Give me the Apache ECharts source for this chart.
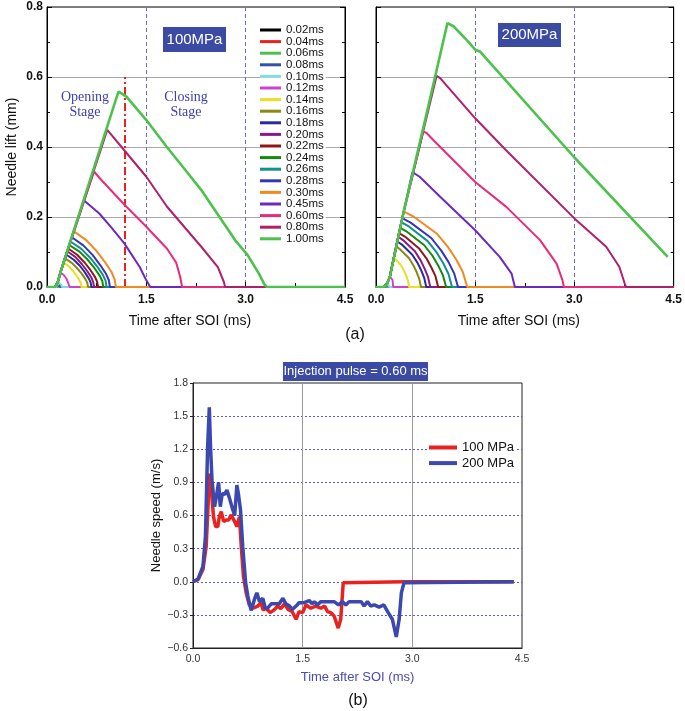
<!DOCTYPE html>
<html>
<head>
<meta charset="utf-8">
<script src="https://cdn.jsdelivr.net/npm/echarts@6/dist/echarts.min.js"></script>
<style>html,body{margin:0;padding:0;background:#fff}#c{width:685px;height:711px}</style>
</head>
<body>
<div id="c"></div>
<script>
// ---------- DATA ----------
const pulseLabels = ['0.02ms','0.04ms','0.06ms','0.08ms','0.10ms','0.12ms','0.14ms','0.16ms','0.18ms','0.20ms','0.22ms','0.24ms','0.26ms','0.28ms','0.30ms','0.45ms','0.60ms','0.80ms','1.00ms'];
const xTicks = [0, 1.5, 3.0, 4.5];
const stageBoundary = [1.17, 0.6];   // red dash-dot line (time, top)

// common opening ramps
const RISE100 = [[0,0],[0.12,0],[0.16,0.012],[0.2,0.04]];
const RISE200 = [[0,0],[0.12,0],[0.17,0.01],[0.21,0.03]];

// 100 MPa needle lift curves [time ms, lift mm]
const L100_002 = [[0,0],[4.5,0]];
const L100_004 = [[0,0],[4.5,0]];
const L100_006 = [[0,0],[4.5,0]];
const L100_008 = [[0,0],[0.14,0],[0.17,0.005],[0.19,0.006],[0.2,0],[4.5,0]];
const L100_010 = [[0,0],[0.14,0],[0.18,0.012],[0.2,0.015],[0.215,0.007],[0.225,0],[4.5,0]];
const L100_012 = [[0,0],[0.12,0],[0.16,0.012],[0.21,0.04],[0.25,0.035],[0.29,0.025],[0.32,0.012],[0.34,0],[4.5,0]];
const L100_014 = [...RISE100,[0.25,0.07],[0.331,0.059],[0.399,0.045],[0.453,0.031],[0.493,0.018],[0.512,0.010],[0.52,0],[4.5,0]];
const L100_016 = [...RISE100,[0.27,0.082],[0.375,0.069],[0.463,0.052],[0.533,0.036],[0.585,0.021],[0.610,0.011],[0.62,0],[4.5,0]];
const L100_018 = [...RISE100,[0.29,0.093],[0.404,0.078],[0.499,0.060],[0.575,0.041],[0.632,0.024],[0.659,0.013],[0.67,0],[4.5,0]];
const L100_020 = [...RISE100,[0.305,0.102],[0.427,0.086],[0.528,0.065],[0.609,0.045],[0.670,0.027],[0.698,0.014],[0.71,0],[4.5,0]];
const L100_022 = [...RISE100,[0.32,0.110],[0.455,0.092],[0.568,0.070],[0.658,0.048],[0.725,0.029],[0.757,0.015],[0.77,0],[4.5,0]];
const L100_024 = [...RISE100,[0.335,0.120],[0.490,0.101],[0.618,0.077],[0.721,0.053],[0.799,0.031],[0.835,0.017],[0.85,0],[4.5,0]];
const L100_026 = [...RISE100,[0.355,0.130],[0.519,0.109],[0.655,0.083],[0.764,0.057],[0.846,0.034],[0.884,0.018],[0.90,0],[4.5,0]];
const L100_028 = [...RISE100,[0.375,0.142],[0.548,0.119],[0.691,0.091],[0.806,0.062],[0.893,0.037],[0.933,0.020],[0.95,0],[4.5,0]];
const L100_030 = [...RISE100,[0.40,0.160],[0.592,0.134],[0.752,0.102],[0.88,0.070],[0.976,0.042],[1.021,0.022],[1.04,0],[4.5,0]];
const L100_045 = [...RISE100,[0.555,0.248],[0.79,0.21],[0.98,0.168],[1.17,0.124],[1.40,0.057],[1.50,0.019],[1.56,0],[4.5,0]];
const L100_060 = [...RISE100,[0.71,0.33],[0.8,0.31],[1.17,0.235],[1.5,0.172],[1.81,0.11],[1.95,0.07],[2.01,0.03],[2.04,0],[4.5,0]];
const L100_080 = [...RISE100,[0.91,0.449],[1.17,0.39],[1.5,0.315],[1.81,0.23],[2.33,0.115],[2.58,0.057],[2.67,0.015],[2.69,0],[4.5,0]];
const L100_100 = [...RISE100,[0.6,0.276],[1.0,0.512],[1.08,0.558],[1.2,0.544],[1.5,0.477],[1.81,0.40],[2.33,0.277],[2.84,0.134],[3.03,0.091],[3.2,0.038],[3.28,0.008],[3.32,0],[4.5,0]];

// 200 MPa needle lift curves [time ms, lift mm]
const L200_002 = [[0,0],[4.5,0]];
const L200_004 = [[0,0],[4.5,0]];
const L200_006 = [[0,0],[4.5,0]];
const L200_008 = [[0,0],[0.14,0],[0.17,0.006],[0.19,0.006],[0.2,0],[4.5,0]];
const L200_010 = [[0,0],[0.13,0],[0.17,0.008],[0.19,0.01],[0.205,0],[4.5,0]];
const L200_012 = [[0,0],[0.12,0],[0.17,0.01],[0.21,0.03],[0.23,0.03],[0.25,0.02],[0.26,0],[4.5,0]];
const L200_014 = [...RISE200,[0.269,0.083],[0.304,0.078],[0.389,0.059],[0.431,0.044],[0.461,0.030],[0.484,0.017],[0.50,0],[4.5,0]];
const L200_016 = [...RISE200,[0.306,0.116],[0.362,0.108],[0.500,0.082],[0.568,0.061],[0.616,0.042],[0.654,0.023],[0.68,0],[4.5,0]];
const L200_018 = [...RISE200,[0.321,0.130],[0.387,0.122],[0.549,0.092],[0.628,0.069],[0.685,0.047],[0.729,0.026],[0.76,0],[4.5,0]];
const L200_020 = [...RISE200,[0.336,0.143],[0.409,0.134],[0.588,0.102],[0.675,0.076],[0.738,0.051],[0.786,0.029],[0.82,0],[4.5,0]];
const L200_022 = [...RISE200,[0.348,0.154],[0.437,0.144],[0.656,0.109],[0.762,0.082],[0.839,0.055],[0.899,0.031],[0.94,0],[4.5,0]];
const L200_024 = [...RISE200,[0.364,0.169],[0.468,0.158],[0.726,0.120],[0.851,0.090],[0.942,0.061],[1.011,0.034],[1.06,0],[4.5,0]];
const L200_026 = [...RISE200,[0.382,0.185],[0.497,0.173],[0.781,0.131],[0.920,0.098],[1.019,0.067],[1.096,0.037],[1.15,0],[4.5,0]];
const L200_028 = [...RISE200,[0.396,0.197],[0.523,0.184],[0.835,0.140],[0.987,0.104],[1.097,0.071],[1.181,0.039],[1.24,0],[4.5,0]];
const L200_030 = [...RISE200,[0.417,0.216],[0.561,0.202],[0.917,0.153],[1.090,0.114],[1.215,0.078],[1.312,0.043],[1.379,0],[4.5,0]];
const L200_045 = [...RISE200,[0.42,0.216],[0.55,0.328],[0.66,0.315],[0.97,0.258],[1.5,0.162],[1.87,0.086],[2.05,0.038],[2.1,0],[4.5,0]];
const L200_060 = [...RISE200,[0.42,0.216],[0.715,0.444],[0.765,0.44],[0.866,0.42],[1.5,0.30],[1.97,0.229],[2.48,0.134],[2.73,0.067],[2.82,0.019],[2.84,0],[4.5,0]];
const L200_080 = [...RISE200,[0.42,0.216],[0.916,0.603],[0.97,0.597],[1.5,0.482],[1.97,0.39],[3.0,0.196],[3.48,0.115],[3.68,0.057],[3.76,0.01],[3.78,0],[4.5,0]];
const L200_100 = [...RISE200,[0.42,0.216],[0.8,0.524],[1.08,0.754],[1.17,0.745],[1.37,0.706],[1.5,0.678],[1.57,0.673],[3.0,0.37],[4.41,0.086]];

const lift100 = [L100_002,L100_004,L100_006,L100_008,L100_010,L100_012,L100_014,L100_016,L100_018,L100_020,L100_022,L100_024,L100_026,L100_028,L100_030,L100_045,L100_060,L100_080,L100_100];
const lift200 = [L200_002,L200_004,L200_006,L200_008,L200_010,L200_012,L200_014,L200_016,L200_018,L200_020,L200_022,L200_024,L200_026,L200_028,L200_030,L200_045,L200_060,L200_080,L200_100];

// Needle speed, injection pulse 0.60 ms [time ms, speed m/s]
const speedNames = ['100 MPa','200 MPa'];
const speed100 = [[0,0],[0.07,0.02],[0.136,0.11],[0.18,0.32],[0.227,0.98],[0.25,0.86],[0.28,0.59],[0.31,0.5],[0.34,0.5],[0.36,0.59],[0.386,0.635],[0.42,0.545],[0.455,0.56],[0.49,0.56],[0.52,0.605],[0.57,0.545],[0.6,0.5],[0.636,0.59],[0.66,0.32],[0.69,0.05],[0.727,-0.1],[0.77,-0.21],[0.82,-0.24],[0.886,-0.22],[0.93,-0.19],[0.96,-0.255],[1.0,-0.24],[1.055,-0.28],[1.11,-0.255],[1.16,-0.22],[1.2,-0.245],[1.25,-0.2],[1.3,-0.25],[1.355,-0.27],[1.41,-0.34],[1.45,-0.27],[1.5,-0.28],[1.545,-0.21],[1.61,-0.24],[1.68,-0.22],[1.75,-0.24],[1.8,-0.22],[1.84,-0.27],[1.886,-0.28],[1.93,-0.31],[1.986,-0.42],[2.02,-0.34],[2.055,-0.01],[2.07,0],[2.9,0],[4.386,0]];
const speed200 = [[0,0],[0.07,0.025],[0.136,0.14],[0.17,0.41],[0.2,1.22],[0.223,1.58],[0.24,1.22],[0.26,0.92],[0.295,0.68],[0.32,0.77],[0.35,0.9],[0.373,0.68],[0.4,0.8],[0.43,0.79],[0.464,0.83],[0.5,0.755],[0.545,0.65],[0.57,0.6],[0.6,0.875],[0.62,0.8],[0.65,0.65],[0.68,0.32],[0.72,-0.01],[0.75,-0.13],[0.795,-0.26],[0.84,-0.16],[0.873,-0.1],[0.91,-0.18],[0.955,-0.15],[0.99,-0.24],[1.02,-0.24],[1.07,-0.2],[1.11,-0.2],[1.18,-0.2],[1.23,-0.15],[1.27,-0.2],[1.32,-0.22],[1.36,-0.25],[1.41,-0.22],[1.45,-0.19],[1.52,-0.19],[1.59,-0.17],[1.63,-0.2],[1.66,-0.18],[1.7,-0.21],[1.75,-0.18],[1.82,-0.18],[1.886,-0.18],[1.93,-0.18],[1.99,-0.21],[2.045,-0.18],[2.09,-0.21],[2.136,-0.18],[2.23,-0.18],[2.3,-0.18],[2.34,-0.22],[2.386,-0.18],[2.43,-0.22],[2.48,-0.21],[2.545,-0.23],[2.61,-0.21],[2.67,-0.28],[2.727,-0.34],[2.78,-0.5],[2.82,-0.34],[2.85,-0.1],[2.886,-0.01],[2.91,0],[4.386,0]];

// ---------- STYLES ----------
const pulseColors = ['#000000','#e8231f','#4cc24c','#3350b0','#86dcdc','#cc44cc','#e8e020','#8a8a10','#2a2a9a','#8a1a8a','#8a1a1a','#108a10','#10908f','#3535bb','#f08a20','#6a2ac0','#e82a7a','#b0206a','#4cc24c'];
const speedColors = ['#e8231f','#3a48b0'];
const SANS = '"Liberation Sans", Arial, sans-serif';
const SERIF = '"Liberation Serif", "Times New Roman", serif';

const chart = echarts.init(document.getElementById('c'), null, {renderer:'canvas'});

function topX(gi){
  return {
    gridIndex: gi, type:'value', min:0, max:4.5, interval:1.5,
    axisLine:{onZero:false, lineStyle:{color:'#000', width:1}},
    axisTick:{inside:true, length:5, lineStyle:{color:'#000'}},
    minorTick:{show:true, splitNumber:2, length:4, lineStyle:{color:'#000'}},
    axisLabel:{formatter:v=>v.toFixed(1), fontFamily:SANS, fontSize:12, fontWeight:'bold', color:'#111', margin:7},
    splitLine:{show:true, showMinLine:false, showMaxLine:false, lineStyle:{color:'#6b6bd6', type:[4,3], width:1}},
    name:'Time after SOI (ms)', nameLocation:'middle', nameGap:27,
    nameTextStyle:{fontFamily:SANS, fontSize:14, color:'#111', padding:[0,12,0,0]}
  };
}
function topY(gi, left, showLabel){
  const o = {
    gridIndex: gi, type:'value', min:0, max:0.8, interval:0.2, position: left ? 'left' : 'right',
    axisLine:{show:true, onZero:false, lineStyle:{color:'#000', width:1}},
    axisTick:{show:true, inside:true, length:5, lineStyle:{color:'#000'}},
    minorTick:{show:true, splitNumber:2, length:3, lineStyle:{color:'#000'}},
    axisLabel:{show:showLabel, formatter:v=>v.toFixed(1), fontFamily:SANS, fontSize:12, fontWeight:'bold', color:'#111', margin:4},
    splitLine:{show:left, showMinLine:false, showMaxLine:false, lineStyle:{color:'#a8a8a8', width:1}}
  };
  if (left && showLabel){
    o.name = 'Needle lift (mm)'; o.nameLocation='middle'; o.nameGap=28;
    o.nameTextStyle = {fontFamily:SANS, fontSize:14, color:'#111'};
  }
  return o;
}

const series = [];
pulseLabels.forEach((nm,i)=>{
  const w = (i===18) ? 2.6 : 2;
  const s1 = {name:nm, type:'line', xAxisIndex:0, yAxisIndex:0, data:lift100[i], showSymbol:false, symbol:'none',
    color:pulseColors[i], lineStyle:{width:w, color:pulseColors[i]}, z:2+i, animation:false, silent:true};
  if (i===18){
    s1.markLine = {silent:true, symbol:['none','none'], label:{show:false},
      lineStyle:{color:'#e8231f', type:[8,3,2,3], width:2},
      data:[[{coord:[stageBoundary[0],0]},{coord:[stageBoundary[0],stageBoundary[1]]}]]};
  }
  series.push(s1);
  series.push({name:nm, type:'line', xAxisIndex:1, yAxisIndex:2, data:lift200[i], showSymbol:false, symbol:'none',
    color:pulseColors[i], lineStyle:{width:w, color:pulseColors[i]}, z:2+i, animation:false, silent:true});
});
series.push({name:speedNames[0], type:'line', xAxisIndex:2, yAxisIndex:4, data:speed100, showSymbol:false, symbol:'none',
  color:speedColors[0], lineStyle:{width:3.5, color:speedColors[0]}, z:3, animation:false});
series.push({name:speedNames[1], type:'line', xAxisIndex:2, yAxisIndex:4, data:speed200, showSymbol:false, symbol:'none',
  color:speedColors[1], lineStyle:{width:3.5, color:speedColors[1]}, z:4, animation:false});

const option = {
  animation:false,
  backgroundColor:'#fff',
  textStyle:{fontFamily:SANS},
  grid:[
    {left:47, top:7, width:298, height:280, show:true, borderColor:'#000', borderWidth:1, backgroundColor:'transparent'},
    {left:376, top:7, width:298, height:280, show:true, borderColor:'#000', borderWidth:1, backgroundColor:'transparent'},
    {left:193, top:383, width:329, height:265, show:true, borderColor:'#222', borderWidth:1, backgroundColor:'transparent'}
  ],
  xAxis:[
    topX(0), topX(1),
    {gridIndex:2, type:'value', min:0, max:4.5, interval:1.5,
     axisLine:{onZero:false, lineStyle:{color:'#222'}},
     axisTick:{show:false},
     axisLabel:{formatter:v=>v.toFixed(1), fontFamily:SANS, fontSize:10.5, color:'#333', margin:6},
     splitLine:{show:true, showMinLine:false, showMaxLine:false, lineStyle:{color:'#999', width:1}},
     name:'Time after SOI (ms)', nameLocation:'middle', nameGap:23,
     nameTextStyle:{fontFamily:SANS, fontSize:13, color:'#4a4ab8'}}
  ],
  yAxis:[
    topY(0,true,true), topY(0,false,false), topY(1,true,false), topY(1,false,false),
    {gridIndex:2, type:'value', min:-0.6, max:1.8, interval:0.3,
     axisLine:{onZero:false, lineStyle:{color:'#222'}},
     axisTick:{show:true, inside:false, length:3, lineStyle:{color:'#222'}},
     axisLabel:{formatter:v=>(v<0?'\u2212':'')+Math.abs(v).toFixed(1), fontFamily:SANS, fontSize:10.5, color:'#333', margin:5},
     splitLine:{show:true, showMinLine:false, showMaxLine:false, lineStyle:{color:'#5a5ad0', type:[2,2], width:1}},
     name:'Needle speed (m/s)', nameLocation:'middle', nameGap:28,
     nameTextStyle:{fontFamily:SANS, fontSize:13, color:'#111'}}
  ],
  legend:[
    {data:pulseLabels, orient:'vertical', left:260, top:24, itemWidth:21, itemHeight:3, icon:'rect', itemGap:-0.4,
     padding:[0,2,0,0], backgroundColor:'#fff', selectedMode:false,
     textStyle:{fontFamily:SANS, fontSize:11.5, lineHeight:11, color:'#111'}},
    {data:speedNames, orient:'vertical', left:429, top:441, itemWidth:28, itemHeight:4, icon:'rect', itemGap:2.6,
     padding:[0,2,0,0], backgroundColor:'#fff', selectedMode:false,
     textStyle:{fontFamily:SANS, fontSize:13, lineHeight:13, color:'#111'}}
  ],
  graphic:[
    {type:'rect', shape:{x:163, y:27, width:63, height:25}, style:{fill:'#3b4ba3'}, z:50},
    {type:'text', x:194.5, y:39.5, style:{text:'100MPa', fill:'#fff', font:'15px '+SANS, align:'center', verticalAlign:'middle'}, z:51},
    {type:'rect', shape:{x:498, y:23, width:63, height:24}, style:{fill:'#3b4ba3'}, z:50},
    {type:'text', x:529.5, y:35, style:{text:'200MPa', fill:'#fff', font:'15px '+SANS, align:'center', verticalAlign:'middle'}, z:51},
    {type:'text', x:85, y:105, style:{text:'Opening\nStage', fill:'#4040a8', font:'14px '+SERIF, align:'center', verticalAlign:'middle', lineHeight:15}, z:51},
    {type:'text', x:186, y:105, style:{text:'Closing\nStage', fill:'#4040a8', font:'14px '+SERIF, align:'center', verticalAlign:'middle', lineHeight:15}, z:51},
    {type:'text', x:355, y:335, style:{text:'(a)', fill:'#111', font:'16px '+SANS, align:'center', verticalAlign:'middle'}, z:51},
    {type:'rect', shape:{x:283, y:362, width:145, height:19}, style:{fill:'#3b4ba3'}, z:50},
    {type:'text', x:355.5, y:371.5, style:{text:'Injection pulse = 0.60 ms', fill:'#fff', font:'13px '+SANS, align:'center', verticalAlign:'middle'}, z:51},
    {type:'text', x:358, y:701, style:{text:'(b)', fill:'#111', font:'16px '+SANS, align:'center', verticalAlign:'middle'}, z:51}
  ],
  series: series
};
chart.setOption(option);
</script>
</body>
</html>
